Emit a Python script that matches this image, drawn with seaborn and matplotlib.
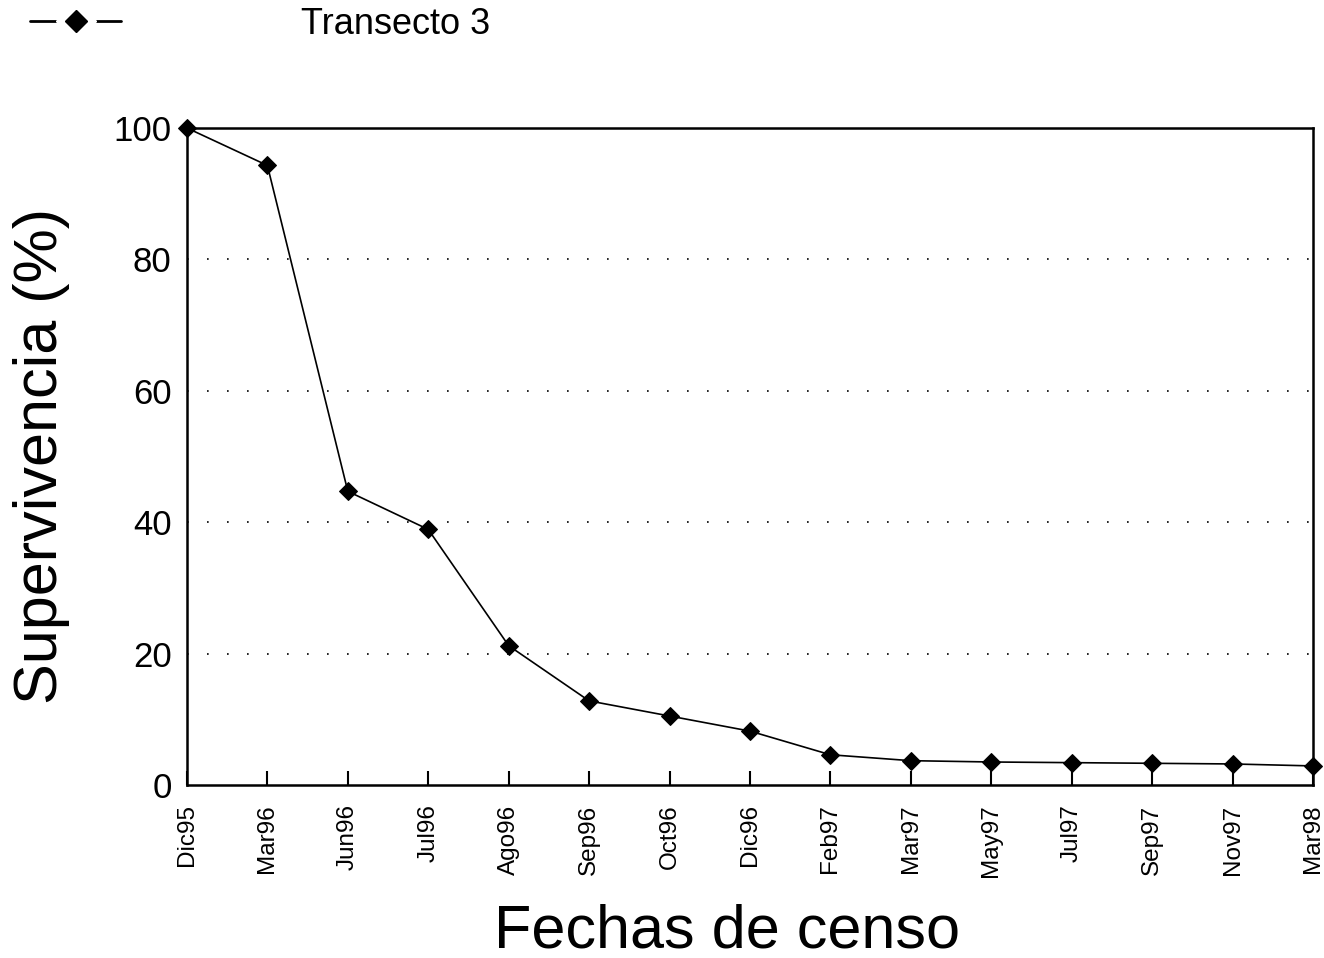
import matplotlib
matplotlib.use('Agg')
import matplotlib.pyplot as plt
from matplotlib.lines import Line2D
import seaborn as sns
import pandas as pd

fechas = ['Dic95', 'Mar96', 'Jun96', 'Jul96', 'Ago96', 'Sep96', 'Oct96', 'Dic96',
          'Feb97', 'Mar97', 'May97', 'Jul97', 'Sep97', 'Nov97', 'Mar98']
supervivencia = [100, 94.3, 44.7, 38.9, 21.2, 12.8, 10.5, 8.2,
                 4.6, 3.7, 3.5, 3.4, 3.3, 3.2, 2.9]
y_ticks = [0, 20, 40, 60, 80, 100]

df = pd.DataFrame({'idx': range(len(fechas)), 'fecha': fechas, 'valor': supervivencia})

sns.set_style('white')
plt.rcParams['font.family'] = ['Liberation Sans', 'DejaVu Sans']
plt.rcParams['text.color'] = 'black'

fig = plt.figure(figsize=(13.24, 9.58), dpi=100)
ax = fig.add_axes([0.1412, 0.1806, 0.8505, 0.6858])

sns.lineplot(data=df, x='idx', y='valor', ax=ax, color='black', linewidth=1.2,
             marker='D', markersize=9, markeredgecolor='black', markerfacecolor='black',
             legend=False, clip_on=False, zorder=5)

# dotted grid lines (sparse as in the scan)
for yv in y_ticks[1:-1]:
    ax.axhline(yv, color='black', linewidth=1.2, linestyle=(0, (1, 11)), zorder=0)

ax.set_xlim(0, len(fechas) - 1)
ax.set_ylim(0, 100)
ax.set_xticks(df['idx'])
ax.set_xticklabels(fechas, rotation=90, fontsize=17.5)
ax.set_yticks(y_ticks)
ax.set_yticklabels([str(v) for v in y_ticks], fontsize=25)
ax.tick_params(axis='x', bottom=True, direction='in', length=10, width=1.5, pad=14,
               colors='black')
ax.tick_params(axis='y', left=False, length=0, pad=11, colors='black')

for sp in ax.spines.values():
    sp.set_color('black')
    sp.set_linewidth(1.8)

ax.set_xlabel('Fechas de censo', fontsize=44, color='black')
ax.xaxis.set_label_coords(0.48, -0.18)
ax.set_ylabel('Supervivencia (%)', fontsize=44, color='black')
ax.yaxis.set_label_coords(-0.104, 0.5)

# legend: "— ◆ —" then label
seg = Line2D([], [], color='black', linewidth=2)
gap = Line2D([], [], linestyle='none', marker='D', markersize=20,
             markerfacecolor='white', markeredgecolor='white')
mk = Line2D([], [], linestyle='none', marker='D', markersize=11,
            markerfacecolor='black', markeredgecolor='black')
ax.legend([(seg, gap, mk)], ['Transecto 3'], loc='upper left',
          bbox_to_anchor=(-0.0016, 1.027), bbox_transform=fig.transFigure,
          frameon=False, fontsize=26, handlelength=2.5, handletextpad=5)

fig.savefig('out.png', dpi=100)
